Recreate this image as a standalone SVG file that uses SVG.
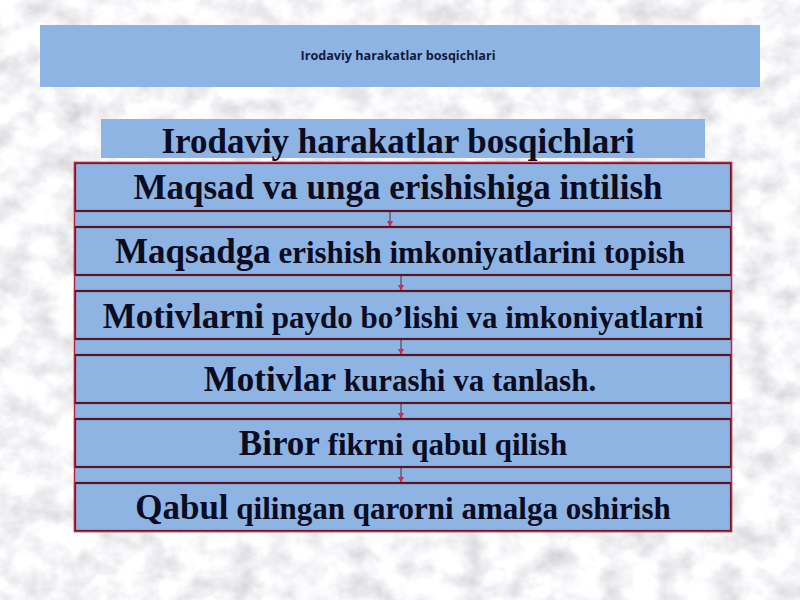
<svg xmlns="http://www.w3.org/2000/svg" width="800" height="600" viewBox="0 0 800 600">
  <defs>
    <filter id="marble" x="0" y="0" width="100%" height="100%">
      <feTurbulence type="fractalNoise" baseFrequency="0.035 0.04" numOctaves="5" seed="11" result="n"/>
      <feColorMatrix in="n" type="matrix" values="0.6 0 0 0 0.62  0.6 0 0 0 0.62  0.6 0 0 0 0.64  0 0 0 0 1"/>
    </filter>
    <marker id="arr" markerWidth="6" markerHeight="6" refX="5" refY="3" orient="auto" markerUnits="userSpaceOnUse">
      <path d="M0,0 L6,3 L0,6 Z" fill="#e8204a"/>
    </marker>
    <style>
      .banner { fill: #8db4e3; }
      .box { fill: #8db4e2; stroke: #5e1222; stroke-width: 2.2; }
      .gap { fill: #8db4e2; }
      .t { font-family: "Liberation Serif", "Times New Roman", serif; font-weight: bold; fill: #0b0b22; text-anchor: middle; }
      .big { font-size: 35px; }
      .sm { font-size: 31px; }
      .conn { stroke: #5a2a30; stroke-width: 1; fill: none; }
    </style>
  </defs>

  <rect x="0" y="0" width="800" height="600" fill="#e8e9ec"/>
  <rect x="0" y="0" width="800" height="600" filter="url(#marble)"/>

  <g id="header">
    <rect class="banner" x="40" y="25" width="720" height="62"/>
    <text x="398" y="60" font-family="'Open Sans', 'Liberation Sans', sans-serif" font-weight="bold" font-size="12" fill="#121a40" text-anchor="middle" textLength="195" lengthAdjust="spacingAndGlyphs">Irodaviy harakatlar bosqichlari</text>
  </g>

  <g id="title">
    <rect class="banner" x="101" y="119" width="604" height="39"/>
    <text class="t big" x="398" y="153">Irodaviy harakatlar bosqichlari</text>
  </g>

  <g id="connectors">
    <rect class="gap" x="75" y="211" width="656" height="16"/>
    <rect class="gap" x="75" y="275" width="656" height="16"/>
    <rect class="gap" x="75" y="339" width="656" height="16"/>
    <rect class="gap" x="75" y="403" width="656" height="16"/>
    <rect class="gap" x="75" y="467" width="656" height="16"/>
    <line class="conn" x1="390" y1="212" x2="390" y2="226" marker-end="url(#arr)"/>
    <line class="conn" x1="401" y1="276" x2="401" y2="290" marker-end="url(#arr)"/>
    <line class="conn" x1="401" y1="340" x2="401" y2="354" marker-end="url(#arr)"/>
    <line class="conn" x1="401" y1="404" x2="401" y2="418" marker-end="url(#arr)"/>
    <line class="conn" x1="401" y1="468" x2="401" y2="482" marker-end="url(#arr)"/>
  </g>

  <g id="step1">
    <rect class="box" x="75" y="163" width="656" height="48"/>
    <text class="t big" x="398" y="199">Maqsad va unga erishishiga intilish</text>
  </g>
  <g id="step2">
    <rect class="box" x="75" y="227" width="656" height="48"/>
    <text class="t" x="400" y="263"><tspan class="big">Maqsadga</tspan><tspan class="sm"> erishish imkoniyatlarini topish</tspan></text>
  </g>
  <g id="step3">
    <rect class="box" x="75" y="291" width="656" height="48"/>
    <text class="t" x="403" y="328"><tspan class="big">Motivlarni</tspan><tspan class="sm"> paydo bo’lishi va imkoniyatlarni</tspan></text>
  </g>
  <g id="step4">
    <rect class="box" x="75" y="355" width="656" height="48"/>
    <text class="t" x="400" y="391"><tspan class="big">Motivlar</tspan><tspan class="sm"> kurashi va tanlash.</tspan></text>
  </g>
  <g id="step5">
    <rect class="box" x="75" y="419" width="656" height="48"/>
    <text class="t" x="403" y="455"><tspan class="big">Biror</tspan><tspan class="sm"> fikrni qabul qilish</tspan></text>
  </g>
  <g id="step6">
    <rect class="box" x="75" y="483" width="656" height="48"/>
    <text class="t" x="403" y="519"><tspan class="big">Qabul</tspan><tspan class="sm"> qilingan qarorni amalga oshirish</tspan></text>
  </g>

  <rect x="74.5" y="162.5" width="657" height="369" fill="none" stroke="#b8283c" stroke-width="1.5"/>
</svg>
